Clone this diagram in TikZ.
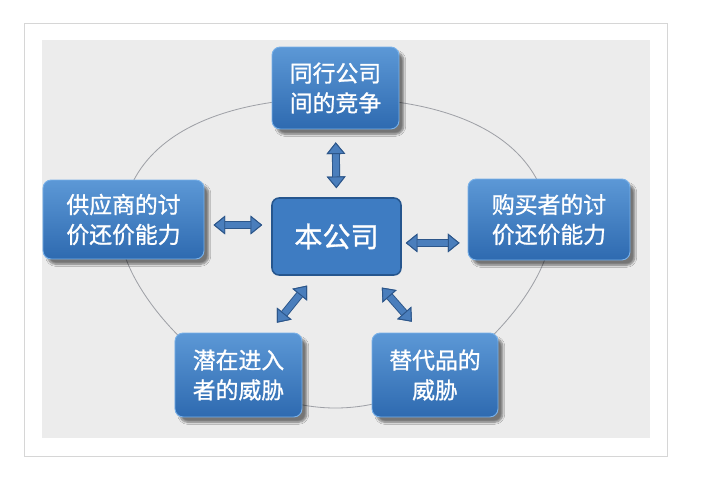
\documentclass[tikz,border=0pt]{standalone}
\usepackage{fontspec}
\newfontfamily\cjk{Noto Sans CJK SC}[FakeBold=1]
\usetikzlibrary{arrows.meta, calc, shadows, shadows.blur}

\definecolor{boxtop}{RGB}{92,152,214}
\definecolor{boxbot}{RGB}{46,106,176}
\definecolor{boxedge}{RGB}{120,176,232}
\definecolor{corefill}{RGB}{62,124,194}
\definecolor{coreedge}{RGB}{38,86,142}
\definecolor{arrfill}{RGB}{74,126,188}
\definecolor{arredge}{RGB}{44,86,138}
\definecolor{panelgray}{RGB}{236,236,236}
\definecolor{framegray}{RGB}{214,214,214}
\definecolor{ringgray}{RGB}{158,160,166}

\tikzset{
  forcenode/.style={rectangle,rounded corners=7pt,top color=boxtop,bottom color=boxbot,
    draw=boxedge,line width=0.8pt,align=center,text=white,inner sep=2pt,
    font=\cjk\fontsize{19.5}{25.5}\selectfont,
    blur shadow={shadow xshift=4pt,shadow yshift=-4.5pt,shadow opacity=50,shadow blur steps=6}},
  corenode/.style={rectangle,rounded corners=6pt,fill=corefill,draw=coreedge,line width=1.3pt,
    text=white,font=\cjk\fontsize{24}{28}\selectfont},
  headtip/.tip={Triangle[length=10pt,width=16pt,color=arredge,fill=arrfill,line width=0.8pt]},
  biarr/.style={headtip-headtip,line width=5.2pt,draw=arrfill,
    preaction={draw=arredge,line width=6.8pt,headtip-headtip}}
}

\begin{document}
\begin{tikzpicture}[x=0.03cm,y=-0.03cm]
  \useasboundingbox (0,0) rectangle (701,496);

  % Frame and panel
  \draw[fill=white,draw=framegray,line width=0.8pt] (24,23) rectangle (667,456);
  \fill[panelgray] (42,40) rectangle (650,438);

  % Ring
  \draw[ringgray,line width=0.7pt] (121,235)
    .. controls (121,140) and (215,98) .. (335.5,98)
    .. controls (456,98) and (550,140) .. (550,235)
    .. controls (550,285) and (456,408) .. (335.5,408)
    .. controls (215,408) and (121,285) .. (121,235) -- cycle;

  % Forces
  \node[corenode,minimum width=3.87cm,minimum height=2.31cm] (firm) at (336.5,236.5) {本公司};
  \node[forcenode,minimum width=3.81cm,minimum height=2.46cm] (rivals) at (335.5,88) {同行公司\\间的竞争};
  \node[forcenode,minimum width=4.83cm,minimum height=2.37cm] (supplier) at (123.5,219.5) {供应商的讨\\价还价能力};
  \node[forcenode,minimum width=4.86cm,minimum height=2.43cm] (buyer) at (549,219.5) {购买者的讨\\价还价能力};
  \node[forcenode,minimum width=3.81cm,minimum height=2.52cm] (entrant) at (238.5,375) {潜在进入\\者的威胁};
  \node[forcenode,minimum width=3.78cm,minimum height=2.52cm] (substitute) at (435,375) {替代品的\\威胁};

  % Links
  \draw[biarr,shorten <=11pt,shorten >=7.7pt] (rivals.south) -- (firm.north);
  \draw[biarr,shorten <=7.7pt,shorten >=7.7pt]
    ([yshift=-4.7pt]supplier.east) -- ([yshift=-4.7pt]supplier.east -| firm.west);
  \draw[biarr,shorten <=3.4pt,shorten >=6.8pt]
    ([yshift=-5.5pt]firm.east) -- ([yshift=-5.5pt]firm.east -| buyer.west);
  \draw[biarr,shorten <=10.8pt,shorten >=10.8pt]
    ($(entrant.north)+(30.5,0)$) -- ($(firm.south)+(-21.5,0)$);
  \draw[biarr,shorten <=13.4pt,shorten >=12.3pt]
    ($(firm.south)+(35,0)$) -- ($(substitute.north)+(-13.6,0)$);

\end{tikzpicture}
\end{document}
